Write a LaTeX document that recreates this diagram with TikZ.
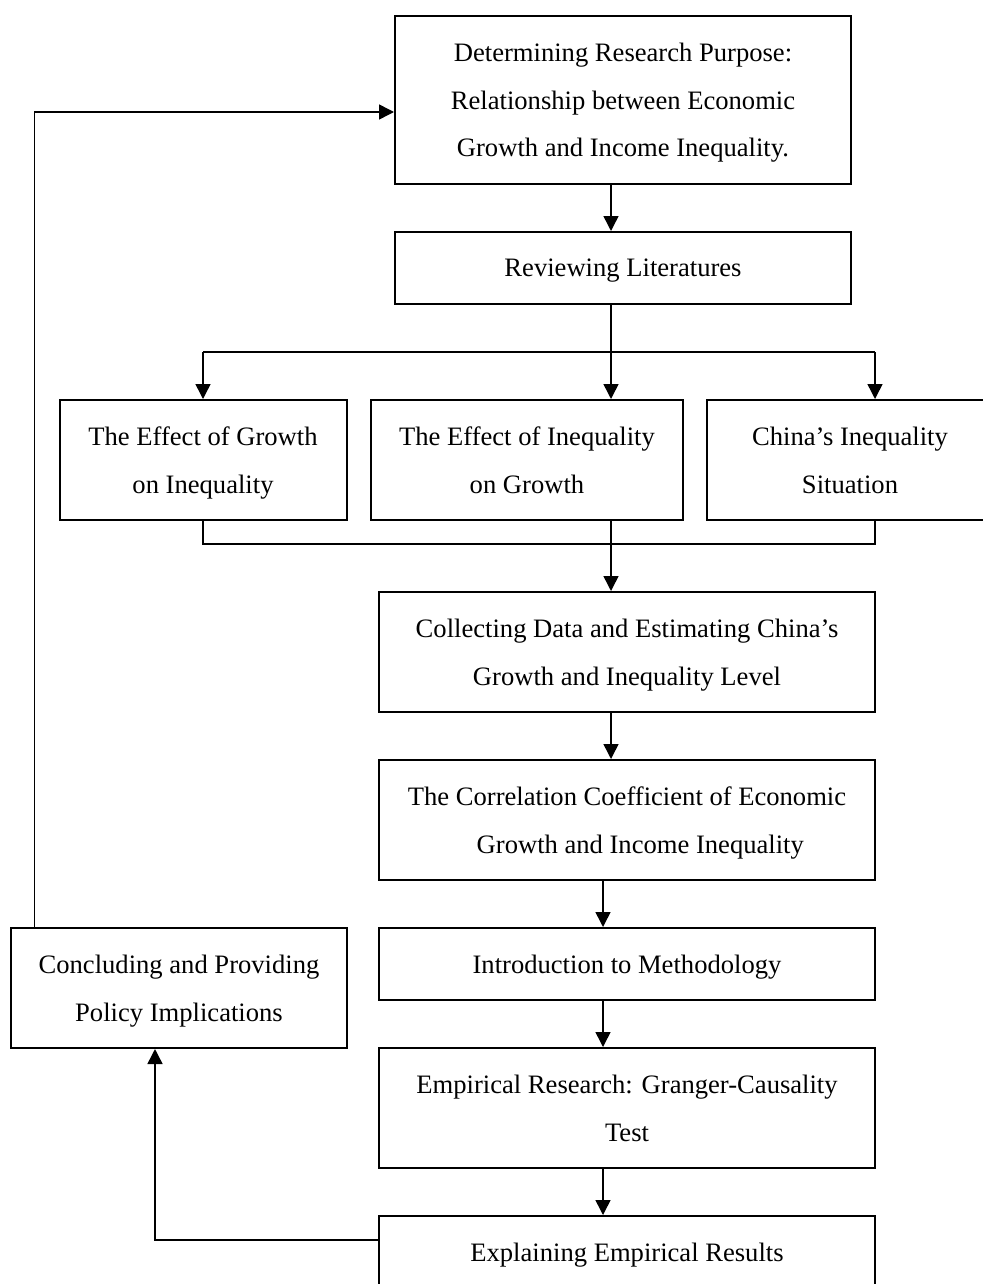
\documentclass[tikz,border=0pt]{standalone}
\usepackage{fontspec}
\setmainfont{Liberation Serif}
\usepackage{tikz}
\usetikzlibrary{arrows.meta,calc,positioning}
\def\px{0.5pt}

\begin{document}
\begin{tikzpicture}[x=\px, y=-\px, line width=0.75pt, >={Triangle[length=7.5pt,width=7.5pt]}]
            \tikzstyle{block}=[draw, rectangle, line width=1pt, inner sep=0pt, align=center,
                               text depth=0pt, font=\fontsize{13.3}{23.8}\selectfont]
            \tikzstyle{wide}=[block, minimum width=496*\px]

            \useasboundingbox (0,0) rectangle (983,1284);
            \clip (0,0) rectangle (983,1284);

            % Draw the main column
            \node[block, minimum width=456*\px, minimum height=168*\px] (purpose) at (623,100)
                {Determining Research Purpose:\\Relationship between Economic\\Growth and Income Inequality.};
            \node[block, minimum width=456*\px, minimum height=72*\px] (review) at (623,268) {Reviewing Literatures};

            % Draw the three literature boxes
            \foreach \name/\x/\w/\txt in {effG/203/287/{The Effect of Growth\\on Inequality},
                                           effI/527/312/{The Effect of Inequality\\on Growth},
                                           china/850/286/{China’s Inequality\\Situation}}
                \node[block, minimum width=\w*\px, minimum height=120*\px] (\name) at (\x,460) {\txt};

            \node[wide, minimum height=120*\px] (collect) at (627,652)
                {Collecting Data and Estimating China’s\\Growth and Inequality Level};
            \node[wide, minimum height=120*\px] (corr) at (627,820)
                {The Correlation Coefficient of Economic\\\hspace*{1em}Growth and Income Inequality};
            \node[wide, minimum height=72*\px] (method) at (627,964) {Introduction to Methodology};
            \node[wide, minimum height=120*\px] (empir) at (627,1108)
                {Empirical Research: Granger-Causality\\Test};
            \node[wide, minimum height=72*\px] (explain) at (627,1252) {Explaining Empirical Results};
            \node[block, minimum width=336*\px, minimum height=120*\px] (conclude) at (179,988)
                {Concluding and Providing\\Policy Implications};

            % Branch points of the connectors
            \coordinate (split) at (611,352);
            \coordinate (lt) at (203,352);
            \coordinate (rt) at (875,352);
            \coordinate (lb) at (203,544);
            \coordinate (rb) at (875,544);
            \coordinate (lower) at (603,880);
            \coordinate (back) at (155,1240);
            \coordinate (loop) at (34.5,112);

            % Connect the boxes
            \draw[->] (purpose.south -| split) -- (review.north -| split);
            \draw (review.south -| split) -- (split);
            \draw (lt) -- (rt);
            \draw[->] (lt) -- (lt |- effG.north);
            \draw[->] (split) -- (split |- effI.north);
            \draw[->] (rt) -- (rt |- china.north);

            \draw (effG.south -| lb) -- (lb) -- (rb) -- (china.south -| rb);
            \draw[->] (effI.south -| split) -- (collect.north -| split);
            \draw[->] (collect.south -| split) -- (corr.north -| split);

            \foreach \source/\dest in {corr/method, method/empir, empir/explain}
                \draw[->] (\source.south -| lower) -- (\dest.north -| lower);

            % Feedback loop
            \draw[->] (explain.west |- back) -- (back) -- (back |- conclude.south);
            \draw[->] (conclude.north -| loop) -- (loop) -- (purpose.west |- loop);

\end{tikzpicture}
\end{document}
